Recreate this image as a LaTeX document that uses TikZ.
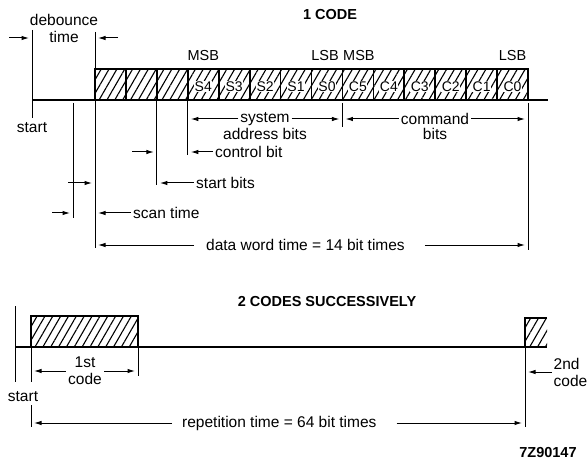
\documentclass[tikz,border=0pt]{standalone}
\usepackage{fontspec}
\setmainfont{Liberation Sans}
\usetikzlibrary{arrows.meta,positioning,patterns.meta}

\tikzset{
 hatch/.style={pattern={Lines[angle=60,distance=6.8pt,line width=1.1pt]}},
 bitbox/.style={draw,line width=1.7pt,hatch,minimum width=30.93pt,minimum height=31pt,
   inner sep=0pt,outer sep=0pt,anchor=south west},
 bitlbl/.style={font=\fontsize{14}{15}\selectfont,fill=white,inner sep=.6pt},
 txt/.style={font=\fontsize{15.5}{17}\selectfont,inner sep=2pt},
 msb/.style={font=\fontsize{14.5}{17}\selectfont,inner sep=1pt},
 ttl/.style={font=\fontsize{14.5}{17}\selectfont\bfseries,inner sep=0pt},
 tick/.style={line width=1pt},
 base/.style={line width=1.8pt},
 dim/.style={->,line width=1pt,shorten >=3pt}
}

\begin{document}
\begin{tikzpicture}[x=1pt,y=-1pt,>={Latex[length=7.5pt,width=4.5pt]}]
 \useasboundingbox (0,0) rectangle (588,462);

 % one code
 \node[ttl] (t1) at (330,15) {1 CODE};
 \coordinate (st1) at (32,30);
 \coordinate (db) at (95,32);
 \draw[tick] (st1) -- (32,118);
 \draw[tick] (db) -- (95,248);
 \node[txt] (s1) at (32,128) {start};
 \node[txt,align=center] (dbt) at (64,28) {debounce\\time};
 \coordinate (dbL) at (9,38);
 \coordinate (dbR) at (118,38);
 \draw[dim] (dbL) -- (st1 |- dbL);
 \draw[dim] (dbR) -- (db |- dbR);

 \draw[base] (32,100) -- (548,100);
 \foreach \i in {1,...,14}
  \node[bitbox] (b\i) at ({95+(\i-1)*30.93},100) {};
 \foreach \i/\t in {4/S4,5/S3,6/S2,7/S1,8/S0,9/C5,10/C4,11/C3,12/C2,13/C1,14/C0}
  \node[bitlbl] (l\i) at ([yshift=-2pt]b\i.center) {\t};

 \node[msb,above=7pt of b4] (msbS) {MSB};
 \node[msb,above=7pt of b8,xshift=-2pt] (lsbS) {LSB};
 \node[msb,above=7pt of b9,xshift=1pt] (msbC) {MSB};
 \node[msb,above=7pt of b14] (lsbC) {LSB};

 % ticks under the word
 \coordinate (sc) at (73,103);
 \draw[tick] (sc) -- (73,218);
 \draw[tick] (b3.south west) -- ++(0,85);
 \draw[tick] (b4.south west) -- ++(0,55);
 \draw[tick] ([yshift=-3pt]b9.south west) -- ++(0,24);
 \draw[tick] ([yshift=-3pt]b14.south east) -- ++(0,147);

 \node[txt] (sysA) at (265,119) {system};
 \node[txt] (sysB) at (265,134) {address bits};
 \draw[dim] (sysA.west) -- (b4.south west |- sysA.west);
 \draw[dim] (sysA.east) -- (b9.south west |- sysA.east);
 \node[txt] (cmdA) at (435,119) {command};
 \node[txt] (cmdB) at (435,134) {bits};
 \draw[dim] (cmdA.west) -- (b9.south west |- cmdA.west);
 \draw[dim] (cmdA.east) -- (b14.south east |- cmdA.east);

 \node[txt,anchor=west] (ctl) at (213,152) {control bit};
 \draw[dim] (ctl.west) -- (b4.south west |- ctl.west);
 \coordinate (cbL) at (132,152);
 \draw[dim] (cbL) -- (b3.south west |- cbL);

 \node[txt,anchor=west] (stb) at (194,183) {start bits};
 \draw[dim] (stb.west) -- (b3.south west |- stb.west);
 \coordinate (sbL) at (68,183);
 \draw[dim] (sbL) -- (b1.south west |- sbL);

 \coordinate (scL) at (52,213);
 \draw[dim] (scL) -- (sc |- scL);
 \node[txt,anchor=west] (scn) at (131,213) {scan time};
 \draw[dim] (scn.west) -- (b1.south west |- scn.west);

 \node[txt,anchor=west] (dwt) at (204,245) {data word time = 14 bit times};
 \draw[dim,shorten <=10pt] (dwt.west) -- (b1.south west |- dwt.west);
 \draw[dim,shorten <=18pt] (dwt.east) -- (b14.south east |- dwt.east);

 % two codes
 \node[ttl] (t2) at (327,302) {2 CODES SUCCESSIVELY};
 \coordinate (st2) at (15,306);
 \draw[tick] (st2) -- (15,382);
 \node[txt] (s2) at (23,397) {start};
 \draw[base] (15,347) -- (547,347);
 \node[bitbox,minimum width=107pt] (c1) at (31,347) {};
 \node[bitbox,draw=none,minimum width=22pt,minimum height=29pt] (c2) at (525,347) {};
 \draw[line width=1.7pt] (c2.south west) -- (c2.north west) -- (c2.north east);

 \draw[tick] (c1.south west) -- ++(0,35);
 \draw[tick] (c1.south east) -- ++(0,29);
 \node[txt,align=center] (c1t) at (85,371) {1st\\code};
 \draw[dim] (c1t.west) -- (c1.south west |- c1t.west);
 \draw[dim] (c1t.east) -- (c1.south east |- c1t.east);

 \draw[tick] (c2.south west) -- ++(0,80);
 \node[txt,align=left,anchor=west,inner sep=0pt] (c2t) at (553.5,372) {2nd\\code};
 \draw[dim,shorten <=2pt] (c2t.west) -- (c2.south west |- c2t.west);

 \coordinate (rp) at (31,405);
 \draw[tick] (rp) -- (31,427);
 \node[txt,anchor=west] (rpt) at (180,423) {repetition time = 64 bit times};
 \draw[dim,shorten <=8pt] (rpt.west) -- (rp |- rpt.west);
 \draw[dim,shorten <=18pt] (rpt.east) -- (c2.south west |- rpt.east);

 \node[ttl] (fig) at (548,453) {7Z90147};
\end{tikzpicture}
\end{document}
